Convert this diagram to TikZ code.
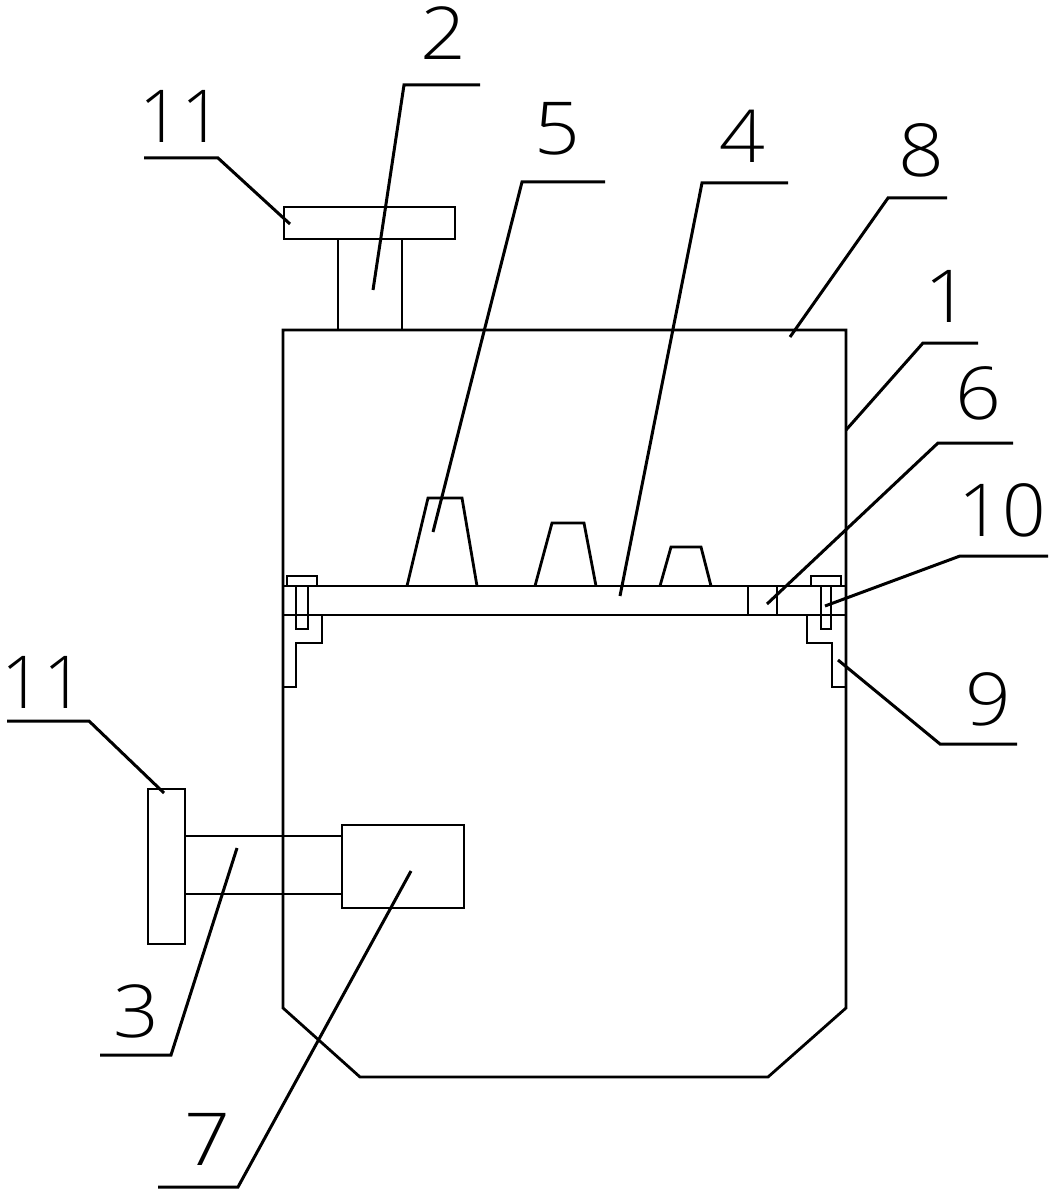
\documentclass[tikz,border=0pt]{standalone}
\usepackage{fontspec}
\setmainfont{Open Sans Light}
\tikzset{
    part/.style={line width=2.8pt, line join=miter},
    leader/.style={line width=3pt},
    partlabel/.style={inner sep=0pt, xscale=1.1, font=\fontsize{73}{73}\selectfont}
}

\begin{document}
\begin{tikzpicture}[x=1pt, y=-1pt]
    \useasboundingbox (0, 0) rectangle (1053, 1198);
    % Housing with the chamfered bottom.
    \draw[part] (283, 330) -- (846, 330) -- (846, 1008) -- (768, 1077)
        -- (360, 1077) -- (283, 1008) -- cycle;
    % Top handle.
    \draw[part] (284, 207) rectangle (455, 239);
    \draw[part] (338, 239) -- (338, 330);
    \draw[part] (402, 239) -- (402, 330);
    % Plate and its cones.
    \draw[part] (283, 586) -- (846, 586);
    \draw[part] (283, 615) -- (846, 615);
    \draw[part] (748, 586) -- (748, 615);
    \draw[part] (777, 586) -- (777, 615);
    \draw[part] (407, 586) -- (428, 498) -- (462, 498) -- (477, 586);
    \draw[part] (535, 586) -- (552, 523) -- (584, 523) -- (596, 586);
    \draw[part] (660, 586) -- (671, 547) -- (701, 547) -- (711, 586);
    % Bolts and brackets, left then right.
    \draw[part] (287, 586) -- (287, 576) -- (317, 576) -- (317, 586);
    \draw[part] (296, 586) -- (296, 629) -- (308, 629) -- (308, 586);
    \draw[part] (322, 615) -- (322, 643) -- (296, 643) -- (296, 687) -- (283, 687);
    \draw[part] (811, 586) -- (811, 576) -- (841, 576) -- (841, 586);
    \draw[part] (821, 586) -- (821, 629) -- (831, 629) -- (831, 586);
    \draw[part] (807, 615) -- (807, 643) -- (832, 643) -- (832, 687) -- (846, 687);
    % Side handle and motor.
    \draw[part] (148, 789) rectangle (185, 944);
    \draw[part] (185, 836) -- (342, 836);
    \draw[part] (185, 894) -- (342, 894);
    \draw[part] (342, 825) rectangle (464, 908);
    % Leader lines.
    \foreach \lname/\ex/\ey/\kx/\ky/\tx/\ty in {
        elevenTop/144/158/218/158/290/224,
        two/480/85/404/85/373/290,
        five/605/182/522/182/433/532,
        four/788/183/702/183/620/596,
        eight/947/198/888/198/790/337,
        one/978/343/923/343/846/430,
        six/1013/443/938/443/767/604,
        ten/1048/556/960/556/825/606,
        nine/1017/744/940/744/838/660,
        elevenSide/7/721/89/721/164/793,
        three/100/1055/171/1055/237/848,
        seven/158/1187/238/1187/411/871} {
        \coordinate (end\lname) at (\ex, \ey);
        \coordinate (knee\lname) at (\kx, \ky);
        \coordinate (tip\lname) at (\tx, \ty);
        \draw[leader] (end\lname) -- (knee\lname) -- (tip\lname);
    }
    % Part numbers.
    \node[partlabel, xscale=0.9] (labelElevenTop) at (181, 116) {11};
    \node[partlabel] (labelTwo) at (443, 33) {2};
    \node[partlabel] (labelFive) at (557, 129) {5};
    \node[partlabel] (labelFour) at (742, 136) {4};
    \node[partlabel] (labelEight) at (921, 150) {8};
    \node[partlabel] (labelOne) at (947, 296) {1};
    \node[partlabel] (labelSix) at (978, 393) {6};
    \node[partlabel, xscale=0.95] (labelTen) at (1002, 510) {10};
    \node[partlabel] (labelNine) at (988, 699) {9};
    \node[partlabel, xscale=0.9] (labelElevenSide) at (43, 682) {11};
    \node[partlabel] (labelThree) at (136, 1011) {3};
    \node[partlabel] (labelSeven) at (207, 1139) {7};
\end{tikzpicture}
\end{document}
